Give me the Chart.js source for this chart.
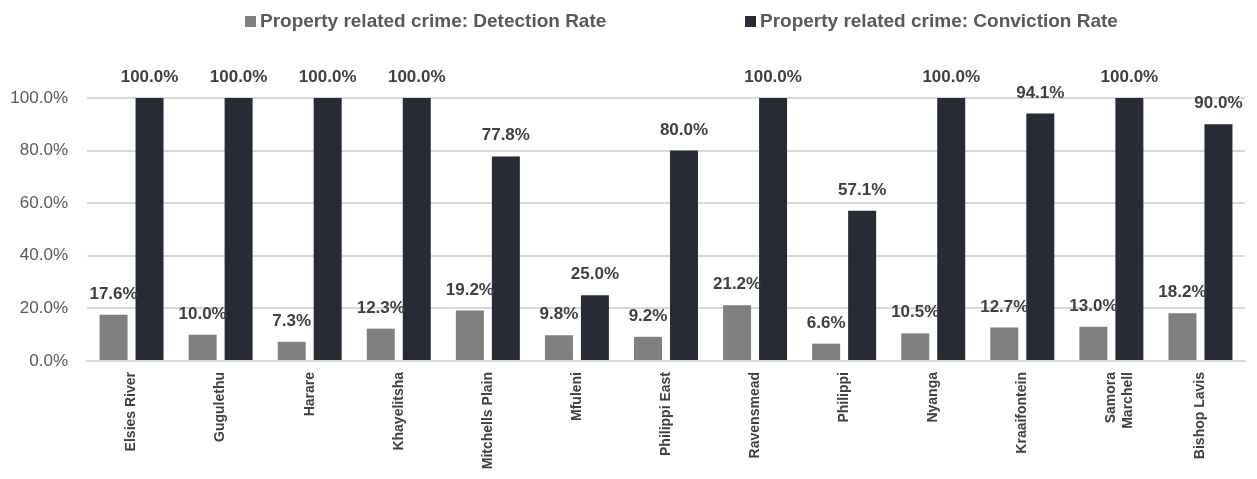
<!DOCTYPE html>
<html>
<head>
<meta charset="utf-8">
<script src="https://cdn.jsdelivr.net/npm/chart.js@4"></script>
<style>
  html, body { margin: 0; padding: 0; background: #fff; }
  #wrap { position: relative; width: 1257px; height: 479px; }
  #legend div {
    position: absolute; top: 10px; white-space: nowrap; line-height: 19px;
    font: bold 19px "Liberation Sans", Arial, sans-serif; color: #595959;
  }
  #legend span.box { display: inline-block; width: 11px; height: 11px; margin-right: 4px; }
</style>
</head>
<body>
<div id="wrap">
  <div id="legend"></div>
  <canvas id="crimeChart" width="1257" height="479"></canvas>
</div>
<script>
const stations = [
  'Elsies River', 'Gugulethu', 'Harare', 'Khayelitsha', 'Mitchells Plain', 'Mfuleni',
  'Philippi East', 'Ravensmead', 'Philippi', 'Nyanga', 'Kraaifontein',
  ['Samora', 'Marchell'], 'Bishop Lavis'
];
const detectionRate = [17.6, 10.0, 7.3, 12.3, 19.2, 9.8, 9.2, 21.2, 6.6, 10.5, 12.7, 13.0, 18.2];
const convictionRate = [100.0, 100.0, 100.0, 100.0, 77.8, 25.0, 80.0, 100.0, 57.1, 100.0, 94.1, 100.0, 90.0];
const yTicks = [0, 20, 40, 60, 80, 100];

const seriesNames = ['Property related crime: Detection Rate', 'Property related crime: Conviction Rate'];
const seriesColors = ['#808080', '#262b36'];
const legendLeft = [245, 745];

const FONT = '"Liberation Sans", Arial, sans-serif';

// value labels above each bar
const barLabels = {
  id: 'barLabels',
  afterDatasetsDraw(chart) {
    const ctx = chart.ctx;
    ctx.save();
    ctx.font = 'bold 17px ' + FONT;
    ctx.fillStyle = '#404040';
    ctx.textAlign = 'center';
    ctx.textBaseline = 'alphabetic';
    chart.data.datasets.forEach((ds, i) => {
      chart.getDatasetMeta(i).data.forEach((bar, j) => {
        ctx.fillText(ds.data[j].toFixed(1) + '%', bar.x, bar.y - 16);
      });
    });
    ctx.restore();
  }
};

const chart = new Chart(document.getElementById('crimeChart'), {
  type: 'bar',
  data: {
    labels: stations,
    datasets: [
      { label: seriesNames[0], data: detectionRate, backgroundColor: seriesColors[0] },
      { label: seriesNames[1], data: convictionRate, backgroundColor: seriesColors[1] }
    ]
  },
  options: {
    responsive: false,
    animation: false,
    categoryPercentage: 0.808,
    barPercentage: 0.778,
    layout: { padding: { top: 98, left: 2, right: 12, bottom: 0 } },
    plugins: {
      legend: { display: false },
      tooltip: { enabled: false }
    },
    scales: {
      x: {
        afterFit(axis) { axis.height = 118; },
        grid: { display: false },
        border: { color: '#d9d9d9', width: 2 },
        ticks: {
          minRotation: 90, maxRotation: 90, autoSkip: false,
          padding: 3,
          color: '#404040',
          font: { family: FONT, size: 14, weight: 'bold' }
        }
      },
      y: {
        min: 0, max: 100,
        afterBuildTicks(axis) { axis.ticks = yTicks.map(v => ({ value: v })); },
        afterFit(axis) { axis.width = 85; },
        grid: { color: '#d9d9d9', lineWidth: 2, drawTicks: false },
        border: { display: false },
        ticks: {
          padding: 19,
          color: '#595959',
          font: { family: FONT, size: 17 },
          callback: v => v.toFixed(1) + '%'
        }
      }
    }
  },
  plugins: [barLabels]
});

// legend row built from the datasets
document.getElementById('legend').innerHTML = chart.data.datasets.map((ds, i) =>
  '<div style="left:' + legendLeft[i] + 'px"><span class="box" style="background:' +
  ds.backgroundColor + '"></span>' + ds.label + '</div>'
).join('');
</script>
</body>
</html>
